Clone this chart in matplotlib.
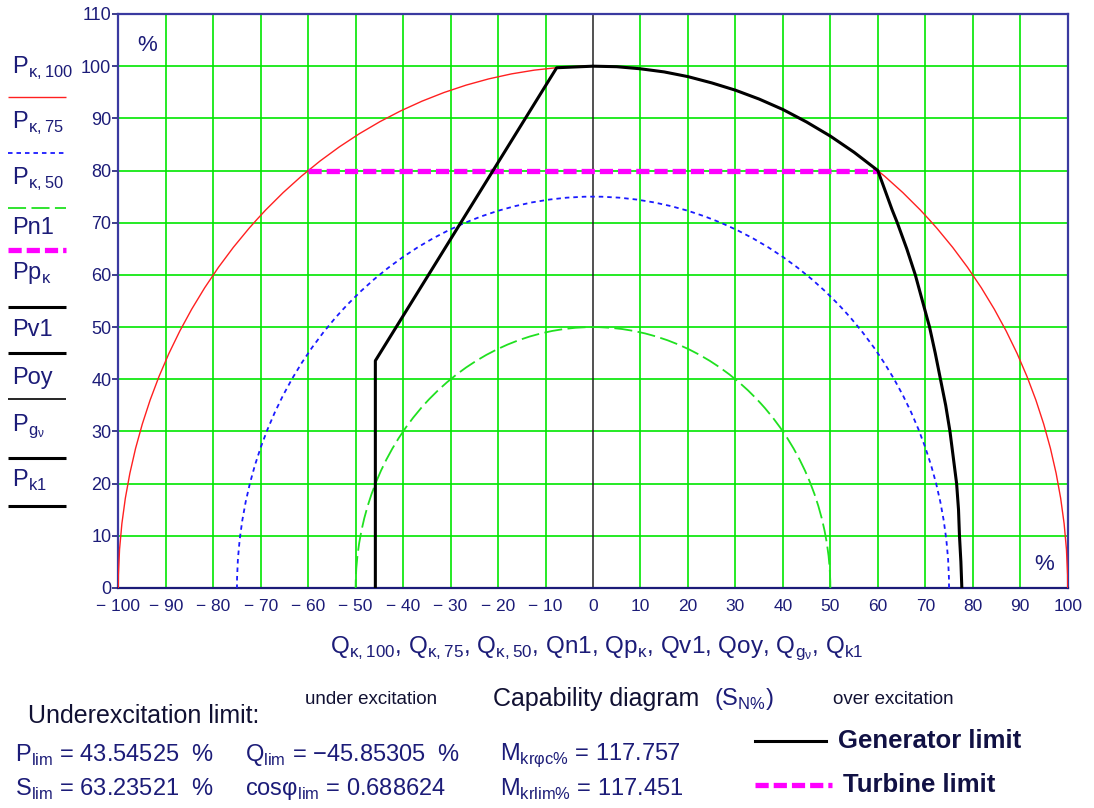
import matplotlib
matplotlib.use("Agg")
import matplotlib.pyplot as plt
from matplotlib.patches import Arc
from matplotlib.lines import Line2D

plt.rcParams['font.family'] = ['Liberation Sans', 'DejaVu Sans']

# ----------------------------------------------------------------------------------------------------------------------
# dati

radii = [100, 75, 50]                       # cerchi P_k,100 / P_k,75 / P_k,50
radius_colors = ['#ff2020', '#1a1aff', '#20e020']
radius_dashes = [None, (2.5, 2.2), (10, 3)]

turbine_q = [-60, 60]
turbine_p = [80, 80]

# limite generatore (Pp_k, Pv1, Poy, Pg_v, Pk1)
gen_q = [-45.85, -45.85, -7.65, 0, 5, 10, 15, 20, 25, 30, 35, 40, 45, 50, 55, 60,
         61, 62, 63, 64.1, 65.1, 66.1, 67, 67.9, 69.4, 70.9, 72.1, 73.2, 74.3, 75.2,
         75.9, 76.6, 77.0, 77.2, 77.5, 77.7]
gen_p = [0, 43.55, 99.7, 100, 99.9, 99.5, 98.9, 98, 96.8, 95.4, 93.7, 91.7, 89.3, 86.6, 83.5, 80,
         77.5, 75, 72.5, 70, 67.5, 65, 62.5, 60, 55, 50, 45, 40, 35, 30,
         25, 20, 15, 10, 5, 0]

x_ticks = list(range(-100, 101, 10))
y_ticks = list(range(0, 111, 10))

legend_labels = [r'P$_{\mathregular{κ, 100}}$', r'P$_{\mathregular{κ, 75}}$', r'P$_{\mathregular{κ, 50}}$',
                 'Pn1', r'Pp$_{\mathregular{κ}}$', 'Pv1', 'Poy', r'P$_{\mathregular{g_ν}}$', r'P$_{\mathregular{k1}}$']

navy = '#1c1c78'
spine = '#3a3aa0'
pink_dash = (2.5, 0.95)

# ----------------------------------------------------------------------------------------------------------------------
fig = plt.figure(figsize=(10.94, 8.08), dpi=100)
ax = fig.add_axes([118.3 / 1094, 220 / 808, 949.4 / 1094, 574 / 808])
ax.set_xlim(-100, 100)
ax.set_ylim(0, 110)

for q in x_ticks:
    if q != 0:
        ax.axvline(q, color='#00e600', lw=1.2, zorder=1)
for p in y_ticks[1:-1]:
    ax.axhline(p, color='#00e600', lw=1.2, zorder=1)
ax.axvline(0, color='#222222', lw=1.1, zorder=2)

for r, c, d in zip(radii, radius_colors, radius_dashes):
    arc = Arc((0, 0), 2 * r, 2 * r, theta1=0, theta2=180, color=c,
              lw=1.0 if d is None else 1.3, zorder=3)
    if d is not None:
        arc.set_linestyle((0, d))
    ax.add_patch(arc)

ax.plot(turbine_q, turbine_p, color='#ff00ff', lw=3.8, dashes=pink_dash, zorder=4, solid_capstyle='butt')
ax.plot(gen_q, gen_p, color='black', lw=2.2, zorder=5)

ax.set_xticks(x_ticks)
ax.set_xticklabels([('\u2212 ' + str(-v)) if v < 0 else str(v) for v in x_ticks])
ax.set_yticks(y_ticks)
ax.tick_params(axis='x', length=0, pad=8, labelsize=12.5, colors=navy)
ax.tick_params(axis='y', length=4, width=1.2, pad=1, labelsize=13, colors=navy)
for s in ax.spines.values():
    s.set_color(spine)
    s.set_linewidth(1.6)
ax.spines['bottom'].set_color(navy)

ax.text(-96, 104, '%', fontsize=16, color=navy, ha='left', va='center')
ax.text(95, 4.5, '%', fontsize=16, color=navy, ha='center', va='center')

# etichetta asse x
fig.text(597 / 1094, 1 - 648 / 808,
         r'Q$_{\mathregular{κ, 100}}$, Q$_{\mathregular{κ, 75}}$, Q$_{\mathregular{κ, 50}}$, Qn1, Qp$_{\mathregular{κ}}$, '
         r'Qv1, Qoy, Q$_{\mathregular{g_ν}}$, Q$_{\mathregular{k1}}$',
         fontsize=17.5, color=navy, ha='center', va='center')

# legenda a sinistra
text_y = [68, 123, 179, 228, 273, 330, 378, 426, 480]
line_y = [97, 153, 208, 250, 307, 353, 399, 458, 506]
line_w = [1.0, 1.3, 1.3, 3.8, 2.2, 2.2, 1.2, 2.2, 2.2]
line_c = ['#ff2020', '#1a1aff', '#20e020', '#ff00ff', 'black', 'black', 'black', 'black', 'black']
line_d = [None, (2.5, 2.2), (10, 3), pink_dash, None, None, None, None, None]
for lab, ty, ly, w, c, d in zip(legend_labels, text_y, line_y, line_w, line_c, line_d):
    fig.text(12 / 1094, 1 - ty / 808, lab, fontsize=17, color=navy, ha='left', va='center')
    ln = Line2D([8 / 1094, 66 / 1094], [1 - ly / 808] * 2, transform=fig.transFigure,
                color=c, lw=w, solid_capstyle='butt')
    if d is not None:
        ln.set_dashes(d)
    fig.add_artist(ln)

# testi in basso
fig.text(28 / 1094, 1 - 716 / 808, 'Underexcitation limit:', fontsize=18, color='#111133', va='center')
fig.text(305 / 1094, 1 - 699 / 808, 'under excitation', fontsize=13.5, color='#111133', va='center')
fig.text(493 / 1094, 1 - 699 / 808, 'Capability diagram', fontsize=18, color='#111133', va='center')
fig.text(714 / 1094, 1 - 699 / 808, r'(S$_{\mathregular{N\%}}$)', fontsize=17, color=navy, va='center')
fig.text(833 / 1094, 1 - 699 / 808, 'over excitation', fontsize=13.5, color='#111133', va='center')

fig.text(15 / 1094, 1 - 755 / 808, r'P$_{\mathregular{lim}}$ = 43.54525  %', fontsize=17, color=navy, va='center')
fig.text(245 / 1094, 1 - 755 / 808, r'Q$_{\mathregular{lim}}$ = $\mathregular{-}$45.85305  %', fontsize=17, color=navy, va='center')
fig.text(500 / 1094, 1 - 755 / 808, r'M$_{\mathregular{krφc\%}}$ = 117.757', fontsize=17, color=navy, va='center')
fig.text(15 / 1094, 1 - 789 / 808, r'S$_{\mathregular{lim}}$ = 63.23521  %', fontsize=17, color=navy, va='center')
fig.text(245 / 1094, 1 - 789 / 808, r'cosφ$_{\mathregular{lim}}$ = 0.688624', fontsize=17, color=navy, va='center')
fig.text(500 / 1094, 1 - 789 / 808, r'M$_{\mathregular{krlim\%}}$ = 117.451', fontsize=17, color=navy, va='center')

fig.add_artist(Line2D([755 / 1094, 826 / 1094], [1 - 741 / 808] * 2, transform=fig.transFigure,
                      color='black', lw=2.2))
fig.text(838 / 1094, 1 - 741 / 808, 'Generator limit', fontsize=18.5, color='#111144', va='center',
         weight='bold')
ln = Line2D([755 / 1094, 832 / 1094], [1 - 785 / 808] * 2, transform=fig.transFigure,
            color='#ff00ff', lw=3.8, solid_capstyle='butt')
ln.set_dashes(pink_dash)
fig.add_artist(ln)
fig.text(843 / 1094, 1 - 785 / 808, 'Turbine limit', fontsize=18.5, color='#111144', va='center',
         weight='bold')

fig.savefig('out.png', dpi=100)
